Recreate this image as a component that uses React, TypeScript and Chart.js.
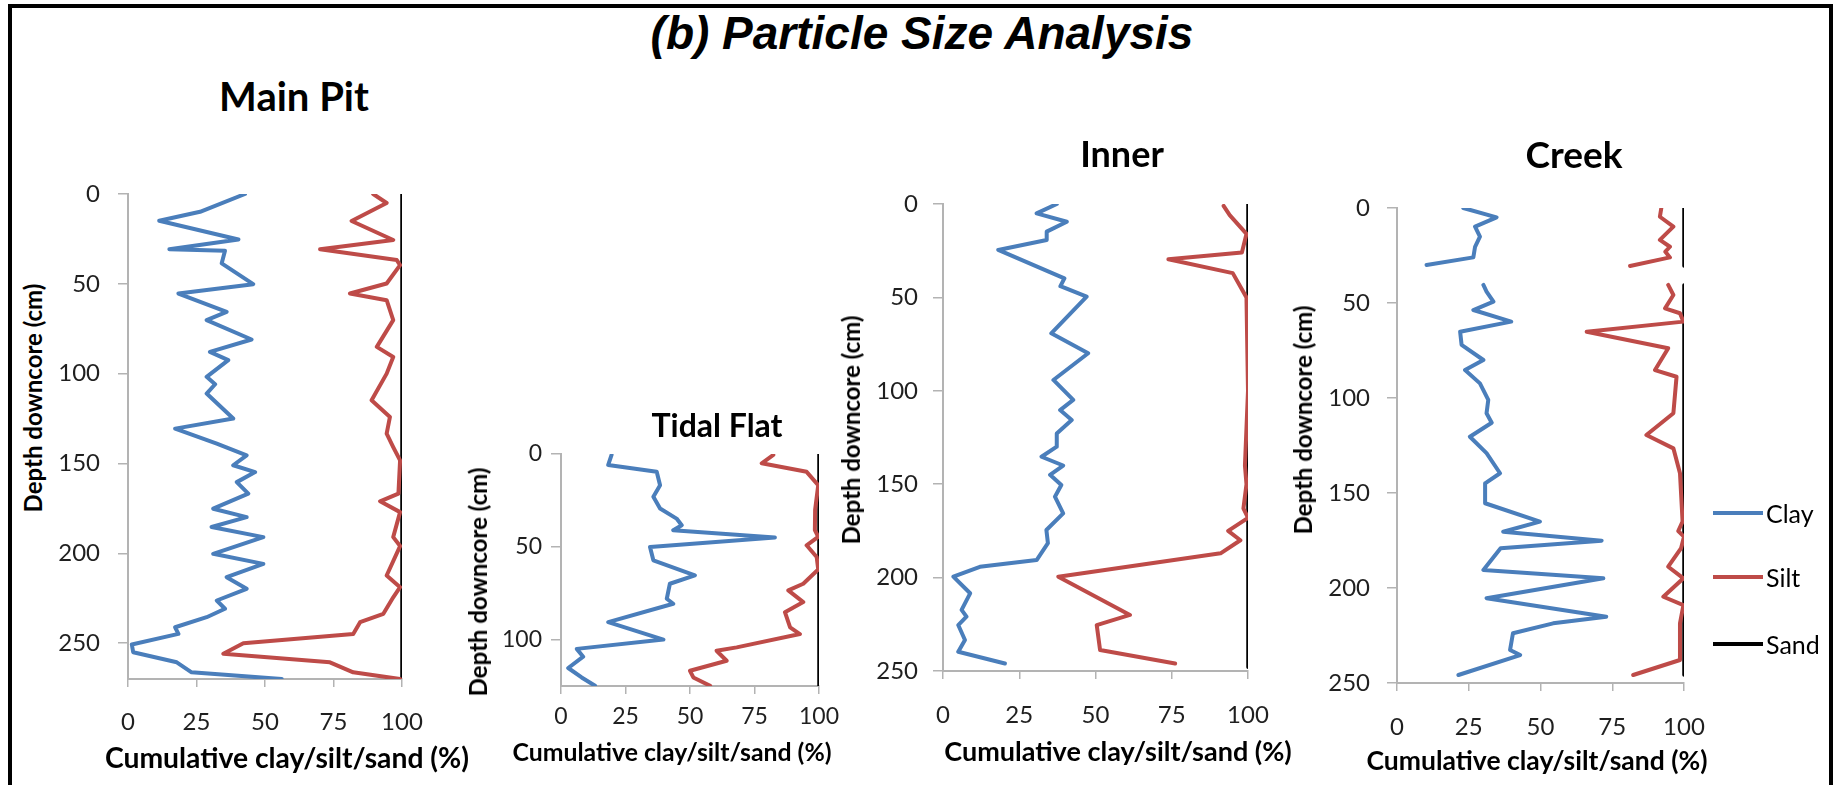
import React, { useEffect, useRef } from "react";
import { Chart, registerables } from "chart.js";

Chart.register(...registerables);

// ---------------- data ----------------
const xTicks = [0, 25, 50, 75, 100];
const seriesNames = ["Clay", "Silt", "Sand"];

// Main Pit
const mainPitYTicks = [0, 50, 100, 150, 200, 250];
const mainPitClayDepth = [0, 9.9, 14.9, 25.3, 30.8, 31.6, 38.6, 50.2, 55.4, 65.6, 70.2, 81, 87.9, 92.5, 101.8, 105.9, 111.1, 125, 130.6, 139, 145.5, 151, 154.8, 160.4, 166.8, 175.2, 179.9, 185.4, 191, 200.3, 205.9, 213.3, 219.8, 226.3, 230.9, 235.6, 241.2, 244.9, 250.8, 255.1, 260.7, 266.3, 270];
const mainPitClay = [42.7, 26.3, 11.4, 40.3, 15.1, 35.4, 34.2, 45.7, 18.4, 36.0, 28.7, 45.1, 29.9, 36.6, 28.7, 31.8, 28.7, 38.4, 17.2, 32.4, 43.3, 38.4, 46.4, 39.7, 43.9, 31.1, 43.3, 30.5, 49.4, 31.1, 49.4, 36.0, 43.3, 32.4, 35.4, 28.7, 17.2, 18.4, 1.4, 1.9, 17.8, 23.2, 56.1];
const mainPitSiltDepth = [0, 5, 15, 25.6, 30.8, 36.8, 39.6, 49.8, 55.4, 59.1, 70.2, 85.1, 90.7, 100, 114.8, 124.1, 133.4, 140.9, 148.3, 166.8, 171.1, 177.1, 191, 196, 212.4, 218.9, 224.5, 233.7, 238.4, 244.9, 250.1, 256, 260.7, 266.3, 270];
const mainPitSilt = [89.5, 94.4, 81.6, 96.8, 70.1, 98.1, 99.3, 94.4, 81, 94.4, 96.8, 90.8, 96.8, 94.4, 88.9, 95.6, 94.4, 96.8, 99.3, 98.7, 92, 99.3, 96.8, 99.3, 94.4, 99.3, 96.8, 93.2, 84.7, 82.2, 42.1, 34.8, 73.7, 82.2, 99.3];
const mainPitSandDepth = [0, 270];
const mainPitSand = [100, 100];

// Tidal Flat
const tidalYTicks = [0, 50, 100];
const tidalClayDepth = [0.5, 5.9, 9.6, 16.8, 23, 29.4, 34.8, 38.4, 41.1, 45, 50.1, 57.3, 65.4, 69.9, 78, 80.7, 90.6, 100, 105, 109.2, 115.3, 120.4, 124.9];
const tidalClay = [19.6, 18.3, 37.1, 38.4, 35.8, 38.4, 44.8, 46.8, 43.5, 82.9, 34.5, 35.8, 51.9, 42.2, 41, 43.5, 18.3, 39.7, 6.1, 8.6, 2.8, 8, 13.2];
const tidalSiltDepth = [0.5, 5, 9.6, 16.8, 30, 41, 44.6, 49.2, 55.5, 62.2, 69.9, 73.5, 79.8, 85.2, 93.4, 97, 104.2, 106, 111.4, 116.8, 120.4, 124.9];
const tidalSilt = [82.3, 77.8, 95.2, 99.7, 98.5, 98.4, 99.7, 95.2, 99.1, 99.7, 93.9, 88.1, 93.9, 86.8, 88.8, 92.6, 68.1, 60.3, 64.2, 50, 51.3, 57.8];
const tidalSandDepth = [0, 125];
const tidalSand = [100, 100];

// Inner
const innerYTicks = [0, 50, 100, 150, 200, 250];
const innerClayDepth = [0, 5, 9.5, 14.8, 19.3, 24.6, 39.8, 44, 49.6, 69.2, 79.9, 94.2, 104.9, 110.3, 115.6, 122.8, 129.9, 135.3, 140, 145, 150.4, 156.7, 165.6, 174.5, 181.6, 190.6, 194.2, 199.5, 208.4, 217.3, 220.9, 225.4, 233.4, 239.7, 246];
const innerClay = [37.3, 30.7, 40.6, 34, 34, 18.1, 39.8, 38.5, 47.1, 35.5, 47.6, 36.2, 42.7, 38.4, 42.2, 37.3, 37.3, 32.3, 39.4, 35.1, 38.8, 36.7, 39.4, 33.9, 34.4, 30.7, 12.1, 3.4, 8.9, 6.1, 7.7, 5, 7.2, 5, 20.3];
const innerSiltDepth = [1, 6, 16, 26, 29.6, 37, 50, 100, 140, 150, 163, 168, 175, 180, 187, 199.5, 220, 225.4, 238.8, 246];
const innerSilt = [92, 94, 99.5, 98, 73.9, 95, 99.5, 100, 99, 99.5, 98.5, 100, 93.5, 97.5, 91, 37.8, 61.3, 50.4, 51.5, 76.1];
const innerSandDepth = [0, 248];
const innerSand = [100, 100];

// Creek (gap between the two core sections)
const creekYTicks = [0, 50, 100, 150, 200, 250];
const creekClayDepth = [0, 4.9, 9.8, 15.1, 20.4, 26, 30, 35, 40.5, 44, 49.3, 53.7, 59.8, 65.1, 72, 80, 85.3, 92.3, 101, 108, 113, 120.4, 129, 139.6, 144.9, 155.4, 165.1, 170.4, 175.1, 179.1, 190.5, 194.9, 205.4, 215.1, 218.6, 223.8, 232.6, 235.3, 245.8];
const creekClay = [23.1, 34.7, 27.2, 28.9, 27.2, 26.6, 10.3, null, 30.1, 31.2, 33.6, 26.6, 39.8, 22, 22.5, 30.1, 23.7, 28.9, 31.8, 31.2, 33, 25.4, 31.2, 35.9, 30.7, 30.7, 49.8, 37, 71.3, 36.1, 30.1, 71.9, 31.2, 72.9, 54.4, 40.4, 39.4, 42.9, 21.4];
const creekSiltDepth = [0, 4.6, 9.8, 16.8, 20.4, 23, 26, 30.5, 35, 40.5, 45.8, 52.8, 55.4, 59.8, 65.1, 73.8, 85.3, 88.8, 108, 119.5, 126.5, 139.6, 165, 170, 173, 179, 188.8, 194.9, 204.6, 209, 218.6, 237.9, 245.8];
const creekSilt = [92.1, 91.6, 96.3, 91.6, 95.1, 93.5, 95.1, 81.2, null, 94.5, 96.3, 93.4, 98.6, 99.8, 66.1, 94.5, 89.9, 97.4, 96.3, 86.9, 96.3, 98.6, 99.5, 98, 100, 99, 94.5, 99.8, 92.8, 99.8, 98.6, 98.6, 82.3];
const creekSandDepth = [0, 30.5, 35, 40.5, 245.8];
const creekSand = [100, 100, null, 100, 100];

// ---------------- styles ----------------
const COLORS = ["#4a7ebb", "#be4b48", "#000000"];
const WIDTHS = [4, 4, 3.5];
const AXIS_COLOR = "#b3b3b3";
const TEXT_COLOR = "#1f1f1f";
const FONT = "Lato, 'Open Sans', sans-serif";

type PanelDef = {
  key: string;
  yMax: number;
  yTicks: number[];
  series: [number[], (number | null)[]][];
  plotLeft: number;
  plotRight: number;
  plotTop: number;
  plotBottom: number;
  yLabelRight: number;
  xLabelY: number;
  tickSize: number;
};

const panels: PanelDef[] = [
  {
    key: "main",
    yMax: 270,
    yTicks: mainPitYTicks,
    series: [[mainPitClayDepth, mainPitClay], [mainPitSiltDepth, mainPitSilt], [mainPitSandDepth, mainPitSand]],
    plotLeft: 128, plotRight: 402, plotTop: 194, plotBottom: 679,
    yLabelRight: 100, xLabelY: 722, tickSize: 24,
  },
  {
    key: "tidal",
    yMax: 125,
    yTicks: tidalYTicks,
    series: [[tidalClayDepth, tidalClay], [tidalSiltDepth, tidalSilt], [tidalSandDepth, tidalSand]],
    plotLeft: 561, plotRight: 819, plotTop: 454, plotBottom: 686,
    yLabelRight: 542, xLabelY: 717, tickSize: 23,
  },
  {
    key: "inner",
    yMax: 250,
    yTicks: innerYTicks,
    series: [[innerClayDepth, innerClay], [innerSiltDepth, innerSilt], [innerSandDepth, innerSand]],
    plotLeft: 943, plotRight: 1248, plotTop: 204, plotBottom: 671,
    yLabelRight: 918, xLabelY: 715, tickSize: 24,
  },
  {
    key: "creek",
    yMax: 250,
    yTicks: creekYTicks,
    series: [[creekClayDepth, creekClay], [creekSiltDepth, creekSilt], [creekSandDepth, creekSand]],
    plotLeft: 1397, plotRight: 1684, plotTop: 208, plotBottom: 683,
    yLabelRight: 1370, xLabelY: 727, tickSize: 24,
  },
];

const WY = 80;
const HX = 70;
const PAD_TOP = 50;
const PAD_RIGHT = 60;

function PanelChart({ p }: { p: PanelDef }) {
  const ref = useRef<HTMLCanvasElement | null>(null);
  const left = p.plotLeft - WY;
  const top = p.plotTop - PAD_TOP;
  const width = p.plotRight + PAD_RIGHT - left;
  const height = p.plotBottom + HX - top;

  useEffect(() => {
    const canvas = ref.current;
    if (!canvas) return;
    const lh = p.tickSize * 1.2;
    const yTickLen = 10;
    const xTickLen = 8;
    const chart = new Chart(canvas, {
      type: "line",
      data: {
        datasets: p.series.map(([depth, vals], i) => ({
          label: seriesNames[i],
          data: depth.map((d, j) => ({ x: vals[j] as any, y: d })),
          borderColor: COLORS[i],
          backgroundColor: COLORS[i],
          borderWidth: WIDTHS[i],
          pointRadius: 0,
          pointHoverRadius: 0,
          tension: 0,
          fill: false,
          spanGaps: false,
          borderJoinStyle: "round" as const,
          borderCapStyle: "round" as const,
        })),
      },
      options: {
        indexAxis: "y",
        animation: false,
        responsive: false,
        events: [],
        layout: { autoPadding: false, padding: { top: PAD_TOP, right: PAD_RIGHT, left: 0, bottom: 0 } },
        plugins: {
          legend: { display: false },
          tooltip: { enabled: false },
          title: { display: false },
        },
        scales: {
          x: {
            type: "linear",
            position: "bottom",
            min: 0,
            max: 100,
            afterBuildTicks: (s: any) => {
              s.ticks = xTicks.map((v) => ({ value: v }));
            },
            afterFit: (s: any) => {
              s.height = HX;
            },
            ticks: {
              padding: p.xLabelY - p.plotBottom - xTickLen - lh / 2,
              font: { family: FONT, size: p.tickSize },
              color: TEXT_COLOR,
              maxRotation: 0,
              autoSkip: false,
            },
            grid: { drawOnChartArea: false, drawTicks: true, tickLength: xTickLen, color: AXIS_COLOR, lineWidth: 1.5 },
            border: { display: true, color: AXIS_COLOR, width: 2 },
          },
          y: {
            type: "linear",
            position: "left",
            reverse: true,
            min: 0,
            max: p.yMax,
            afterBuildTicks: (s: any) => {
              s.ticks = p.yTicks.map((v) => ({ value: v }));
            },
            afterFit: (s: any) => {
              s.width = WY;
            },
            ticks: {
              padding: p.plotLeft - yTickLen - p.yLabelRight,
              font: { family: FONT, size: p.tickSize },
              color: TEXT_COLOR,
              autoSkip: false,
            },
            grid: { drawOnChartArea: false, drawTicks: true, tickLength: yTickLen, color: AXIS_COLOR, lineWidth: 1.5 },
            border: { display: true, color: AXIS_COLOR, width: 2 },
          },
        },
      } as any,
    });
    return () => chart.destroy();
  }, [p]);

  return (
    <canvas
      ref={ref}
      width={width}
      height={height}
      style={{ position: "absolute", left, top, width, height }}
    />
  );
}

type TextDef = { text: string; x: number; y: number; size: number; rotate?: boolean; weight?: number; italic?: boolean; family?: string };

const texts: TextDef[] = [
  { text: "(b) Particle Size Analysis", x: 922, y: 33, size: 46, weight: 700, italic: true, family: "'Liberation Sans', Arial, sans-serif" },
  { text: "Main Pit", x: 294, y: 96, size: 40, weight: 700 },
  { text: "Tidal Flat", x: 717, y: 425, size: 32, weight: 700 },
  { text: "Inner", x: 1122, y: 153, size: 36, weight: 700 },
  { text: "Creek", x: 1574, y: 153, size: 37, weight: 700 },
  { text: "Depth downcore (cm)", x: 33, y: 398, size: 24, weight: 700, rotate: true },
  { text: "Depth downcore (cm)", x: 478, y: 582, size: 24, weight: 700, rotate: true },
  { text: "Depth downcore (cm)", x: 851, y: 430, size: 24, weight: 700, rotate: true },
  { text: "Depth downcore (cm)", x: 1303, y: 420, size: 24, weight: 700, rotate: true },
  { text: "Cumulative clay/silt/sand (%)", x: 287, y: 757, size: 28.3, weight: 700 },
  { text: "Cumulative clay/silt/sand (%)", x: 672, y: 752, size: 24.8, weight: 700 },
  { text: "Cumulative clay/silt/sand (%)", x: 1118, y: 750, size: 27, weight: 700 },
  { text: "Cumulative clay/silt/sand (%)", x: 1537, y: 760, size: 26.5, weight: 700 },
];

const legendRows = [513, 577, 644];

export default function App() {
  return (
    <div
      style={{
        position: "absolute",
        left: 0,
        top: 0,
        width: 1843,
        height: 785,
        overflow: "hidden",
        background: "#ffffff",
        fontFamily: FONT,
        color: TEXT_COLOR,
      }}
    >
      <div
        style={{
          position: "absolute",
          left: 8,
          top: 4,
          width: 1833 - 8,
          height: 900,
          border: "4px solid #000",
          boxSizing: "border-box",
        }}
      />
      {panels.map((p) => (
        <PanelChart key={p.key} p={p} />
      ))}
      {texts.map((t, i) => (
        <div
          key={i}
          style={{
            position: "absolute",
            left: t.x,
            top: t.y,
            transform: `translate(-50%, -50%)${t.rotate ? " rotate(-90deg)" : ""}`,
            whiteSpace: "nowrap",
            lineHeight: 1,
            fontSize: t.size,
            fontWeight: t.weight ?? 400,
            fontStyle: t.italic ? "italic" : "normal",
            fontFamily: t.family ?? FONT,
            color: "#000",
          }}
        >
          {t.text}
        </div>
      ))}
      {seriesNames.map((name, i) => (
        <div key={name} style={{ position: "absolute", left: 1713, top: legendRows[i] - 15, height: 30, display: "flex", alignItems: "center" }}>
          <div style={{ width: 50, height: WIDTHS[i], background: COLORS[i] }} />
          <span style={{ marginLeft: 3, fontSize: 25, lineHeight: 1, color: "#000" }}>{name}</span>
        </div>
      ))}
    </div>
  );
}
